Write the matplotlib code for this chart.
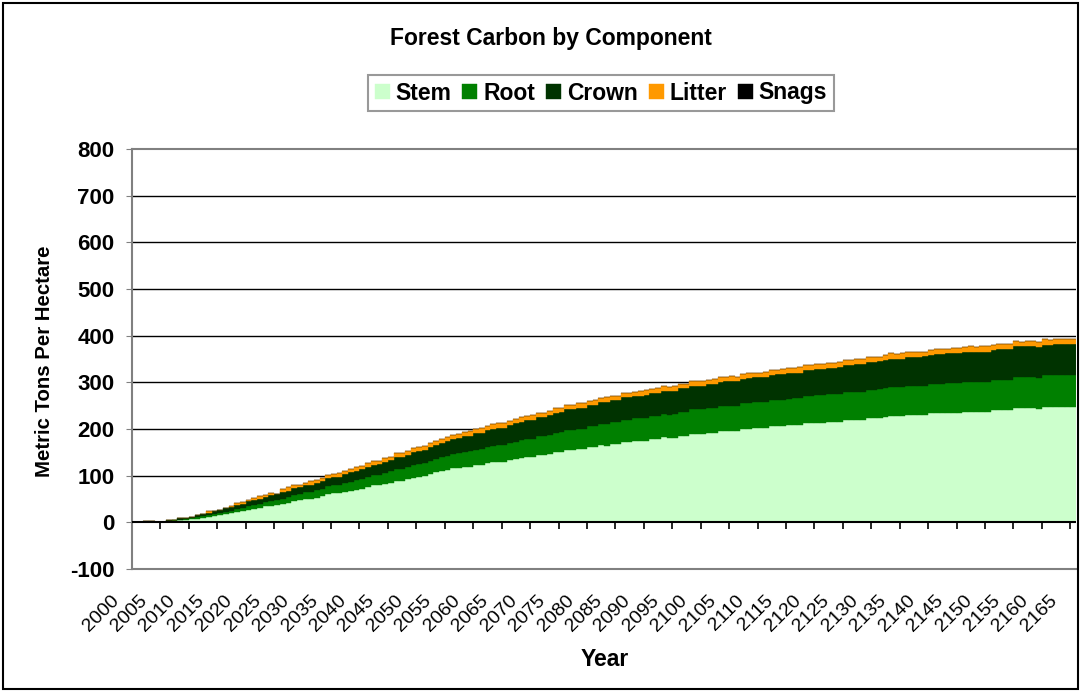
import matplotlib
matplotlib.use("Agg")
import matplotlib.pyplot as plt
import matplotlib.transforms as mtransforms
import numpy as np
from matplotlib.patches import Rectangle

plt.rcParams['font.family'] = ['Liberation Sans', 'DejaVu Sans']
plt.rcParams['axes.unicode_minus'] = False

# Data (metric tons per hectare, one bar per year)
years = list(range(2000, 2166))

stem = [
    0, 0, 0, 0, 0, 0, 1, 2, 4, 5,
    7, 8, 10, 12, 14, 15, 17, 19, 22, 24,
    27, 29, 31, 34, 36, 38, 40, 42, 45, 47,
    49, 51, 53, 56, 60, 62, 62, 66, 68, 70,
    72, 76, 79, 79, 83, 85, 89, 89, 93, 96,
    98, 100, 104, 107, 110, 113, 116, 117, 119, 119,
    123, 123, 127, 129, 129, 129, 134, 136, 138, 140,
    140, 144, 144, 146, 151, 151, 155, 155, 157, 157,
    161, 161, 165, 164, 168, 168, 172, 172, 174, 174,
    174, 178, 178, 182, 180, 180, 185, 185, 189, 189,
    189, 191, 191, 195, 195, 195, 195, 200, 200, 202,
    202, 202, 207, 206, 206, 208, 208, 208, 213, 213,
    213, 213, 215, 215, 215, 219, 219, 219, 219, 223,
    223, 223, 225, 228, 228, 228, 230, 230, 230, 230,
    234, 234, 234, 234, 234, 234, 236, 236, 236, 236,
    236, 240, 240, 240, 240, 245, 245, 245, 245, 243,
    248, 248, 248, 248, 248, 248,
]
root = [
    0, 0, 0, 1, 1, 0, 1, 2, 2, 2,
    2, 3, 3, 3, 4, 4, 5, 5, 6, 6,
    7, 8, 8, 9, 10, 10, 11, 12, 14, 14,
    15, 15, 16, 16, 17, 17, 18, 19, 19, 20,
    21, 21, 22, 23, 23, 24, 25, 25, 26, 27,
    27, 28, 28, 29, 30, 30, 31, 31, 32, 33,
    33, 34, 34, 35, 36, 36, 37, 37, 38, 39,
    39, 40, 40, 41, 41, 42, 43, 43, 44, 44,
    45, 45, 46, 47, 47, 48, 48, 48, 49, 49,
    50, 50, 50, 51, 51, 52, 52, 52, 53, 53,
    53, 54, 54, 54, 55, 55, 55, 55, 56, 56,
    56, 56, 56, 57, 57, 57, 58, 58, 58, 58,
    59, 59, 59, 59, 60, 60, 60, 61, 61, 61,
    61, 62, 62, 62, 62, 62, 63, 63, 63, 63,
    62, 63, 63, 64, 64, 64, 64, 65, 65, 65,
    65, 65, 66, 66, 66, 66, 66, 67, 67, 67,
    67, 67, 68, 68, 68, 68,
]
crown = [
    0, 0, 2, 1, 0, 0, 2, 2, 3, 3,
    3, 4, 5, 6, 6, 7, 8, 9, 10, 10,
    11, 11, 12, 12, 13, 13, 13, 14, 14, 14,
    15, 15, 16, 17, 17, 18, 18, 19, 20, 20,
    21, 22, 22, 23, 24, 24, 25, 26, 26, 27,
    28, 28, 29, 30, 30, 31, 32, 33, 33, 34,
    35, 35, 36, 37, 37, 38, 38, 39, 40, 40,
    41, 41, 42, 42, 43, 43, 44, 44, 45, 45,
    46, 46, 46, 47, 47, 47, 48, 48, 48, 48,
    49, 49, 49, 49, 50, 50, 50, 50, 50, 51,
    51, 51, 51, 52, 52, 52, 52, 52, 53, 53,
    53, 53, 53, 54, 54, 54, 55, 55, 55, 56,
    56, 56, 57, 57, 57, 58, 58, 59, 59, 59,
    60, 60, 60, 61, 61, 61, 62, 62, 62, 63,
    63, 63, 64, 64, 64, 64, 65, 65, 65, 65,
    65, 65, 65, 66, 66, 66, 66, 66, 66, 66,
    66, 66, 66, 66, 66, 66,
]
litter = [
    0, 0, 0, 0, 0, 0, 0, 0, 0, 0,
    0, 0, 0, 3, 0, 0, 0, 2, 4, 4,
    3, 4, 5, 4, 4, 0, 8, 8, 6, 6,
    6, 7, 5, 7, 7, 6, 8, 7, 7, 8,
    7, 8, 8, 7, 8, 8, 9, 8, 8, 9,
    9, 8, 9, 9, 8, 9, 9, 9, 10, 9,
    9, 10, 9, 9, 10, 10, 9, 10, 10, 9,
    10, 10, 9, 10, 10, 9, 10, 10, 9, 10,
    9, 10, 9, 10, 9, 8, 9, 10, 9, 10,
    10, 9, 10, 10, 9, 10, 10, 9, 10, 10,
    10, 10, 11, 10, 10, 11, 10, 10, 11, 10,
    10, 11, 11, 10, 11, 11, 10, 11, 11, 10,
    11, 11, 10, 11, 11, 10, 11, 11, 10, 11,
    11, 10, 11, 11, 10, 11, 11, 10, 11, 10,
    10, 11, 11, 10, 11, 11, 10, 11, 10, 11,
    11, 10, 11, 11, 10, 11, 10, 11, 11, 10,
    11, 10, 11, 11, 10, 10,
]
snags = [0] * len(years)

names = ['Stem', 'Root', 'Crown', 'Litter', 'Snags']
colors = ['#CCFFCC', '#008000', '#003300', '#FF9900', '#000000']

fig = plt.figure(figsize=(10.81, 6.92), dpi=100)
ax = fig.add_axes([132 / 1081, 1 - 569 / 692, (1076 - 132) / 1081, (569 - 149) / 692])

x = np.arange(len(years))
bottom = np.zeros(len(years))
for vals, name, c in zip([stem, root, crown, litter, snags], names, colors):
    vals = np.array(vals, dtype=float)
    ax.bar(x, vals, width=1.0, bottom=bottom, color=c, edgecolor=c,
           linewidth=0.3, label=name, zorder=2)
    bottom += vals

# gridlines and zero line
for v in range(100, 800, 100):
    ax.axhline(v, color='black', linewidth=1.0, zorder=1)
ax.axhline(0, color='black', linewidth=1.5, zorder=3)

for s in ['left', 'bottom', 'top']:
    ax.spines[s].set_color('#808080')
    ax.spines[s].set_linewidth(1.5)
ax.spines['right'].set_visible(False)

ax.set_yticks(range(-100, 900, 100))
ax.tick_params(axis='y', direction='out', length=4.5, color='#808080',
               labelsize=16, pad=8)
for lab in ax.get_yticklabels():
    lab.set_fontweight('bold')

# category labels below the plot area (every 5th year)
ax.set_xticks(x[::5])
ax.set_xticklabels([str(y) for y in years[::5]], rotation=45, ha='right',
                   va='baseline', rotation_mode='anchor', fontsize=14)
ax.tick_params(axis='x', length=0, pad=23)
shift = mtransforms.ScaledTranslation(-0.155, 0, fig.dpi_scale_trans)
for lab in ax.get_xticklabels():
    lab.set_transform(lab.get_transform() + shift)

# tick marks on the zero line between categories
sec = ax.secondary_xaxis(100 / 900)
sec.set_xticks(np.arange(-0.5, len(years) - 0.5, 5))
sec.tick_params(axis='x', direction='out', length=5, color='black',
                labelbottom=False, labeltop=False, width=1.2)
sec.spines['bottom'].set_visible(False)
sec.spines['top'].set_visible(False)

ax.set_xlim(-0.5, len(years) - 0.5)
ax.set_ylim(-100, 800)

fig.text(551 / 1081, 1 - 38 / 692, 'Forest Carbon by Component',
         ha='center', va='center', fontsize=16.5, fontweight='bold')
fig.text(45 / 1081, 1 - 361 / 692, 'Metric Tons Per Hectare', rotation=90,
         ha='center', va='center', fontsize=14.7, fontweight='bold')
fig.text(605 / 1081, 1 - 660 / 692, 'Year', ha='center', va='center',
         fontsize=16.5, fontweight='bold')

leg = fig.legend(loc='center', bbox_to_anchor=(601 / 1081, 1 - 93 / 692),
                 ncol=5, frameon=True, fancybox=False, handlelength=0.65,
                 handleheight=0.65, handletextpad=0.26, columnspacing=0.48,
                 borderpad=0.3, borderaxespad=0,
                 prop={'weight': 'bold', 'size': 16.5})
leg.get_frame().set_edgecolor('#808080')
leg.get_frame().set_linewidth(1.5)

fig.patches.append(Rectangle((3 / 1081, 3 / 692), 1075 / 1081, 686 / 692,
                             transform=fig.transFigure, fill=False,
                             edgecolor='black', linewidth=1.5))

fig.savefig('out.png', dpi=100)
